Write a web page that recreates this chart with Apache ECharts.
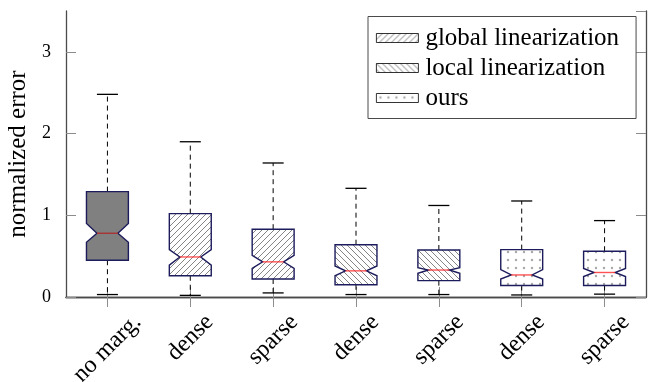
<!DOCTYPE html>
<html><head><meta charset="utf-8">
<script src="https://cdn.jsdelivr.net/npm/echarts@6/dist/echarts.min.js"></script>
<style>html,body{margin:0;padding:0;background:#fff}#c{width:652px;height:382px}</style>
</head><body><div id="c"></div>
<script>
// ---- data ----
const categories = ['no marg.', 'dense', 'sparse', 'dense', 'sparse', 'dense', 'sparse'];
const groups = ['none', 'global', 'global', 'local', 'local', 'ours', 'ours'];
const whiskerLow  = [0.03, 0.02, 0.05, 0.03, 0.03, 0.025, 0.035];
const q1          = [0.45, 0.26, 0.22, 0.15, 0.20, 0.14, 0.14];
const notchLow    = [0.67, 0.39, 0.35, 0.26, 0.29, 0.22, 0.25];
const median      = [0.78, 0.49, 0.43, 0.32, 0.33, 0.27, 0.30];
const notchHigh   = [0.90, 0.58, 0.51, 0.38, 0.36, 0.335, 0.35];
const q3          = [1.29, 1.02, 0.83, 0.64, 0.575, 0.58, 0.56];
const whiskerHigh = [2.48, 1.90, 1.64, 1.33, 1.12, 1.175, 0.935];
const yTicks = [0, 1, 2, 3];
const seriesNames = {none: 'no marg.', global: 'global linearization', local: 'local linearization', ours: 'ours'};
const legendNames = ['global linearization', 'local linearization', 'ours'];

// ---- patterns ----
function hatch(dir) {
  const s = 6, c = document.createElement('canvas');
  c.width = c.height = s;
  const g = c.getContext('2d');
  g.fillStyle = '#fff'; g.fillRect(0, 0, s, s);
  g.strokeStyle = '#666'; g.lineWidth = 0.8;
  g.beginPath();
  if (dir > 0) {
    g.moveTo(-1, s + 1); g.lineTo(s + 1, -1);
    g.moveTo(-1, 1); g.lineTo(1, -1);
    g.moveTo(s - 1, s + 1); g.lineTo(s + 1, s - 1);
  } else {
    g.moveTo(-1, -1); g.lineTo(s + 1, s + 1);
    g.moveTo(-1, s - 1); g.lineTo(1, s + 1);
    g.moveTo(s - 1, -1); g.lineTo(s + 1, 1);
  }
  g.stroke();
  return {image: c, repeat: 'repeat'};
}
function dots() {
  const c = document.createElement('canvas');
  c.width = 8; c.height = 8;
  const g = c.getContext('2d');
  g.fillStyle = '#fff'; g.fillRect(0, 0, 8, 8);
  g.fillStyle = '#a8a8a8';
  g.beginPath(); g.arc(4, 4, 1.2, 0, Math.PI * 2); g.fill();
  return {image: c, repeat: 'repeat'};
}
const fills = {none: '#808080', global: hatch(1), local: hatch(-1), ours: dots()};

const FONT = '"Liberation Serif", "Times New Roman", serif';
const XFS = 24;
const mctx = document.createElement('canvas').getContext('2d');
mctx.font = XFS + 'px "Liberation Serif"';

function makeRender(fill, medianColor) {
  return function (params, api) {
    const x = api.value(0);
    const band = api.size([1, 0])[0];
    const hw = band * 0.253, ind = hw * 0.5, cap = band * 0.127;
    const Y = v => api.coord([x, v])[1];
    const cx = api.coord([x, 0])[0];
    const yLo = Y(api.value(1)), yQ1 = Y(api.value(2)), yNL = Y(api.value(3)),
          yMed = Y(api.value(4)), yNH = Y(api.value(5)), yQ3 = Y(api.value(6)), yHi = Y(api.value(7));
    const dash = {stroke: '#000', lineWidth: 1, lineDash: [5, 4]};
    const capS = {stroke: '#000', lineWidth: 1.3};
    const pts = [[cx - hw, yQ3], [cx + hw, yQ3], [cx + hw, yNH], [cx + hw - ind, yMed], [cx + hw, yNL], [cx + hw, yQ1],
                 [cx - hw, yQ1], [cx - hw, yNL], [cx - hw + ind, yMed], [cx - hw, yNH]];
    return {type: 'group', children: [
      {type: 'line', shape: {x1: cx, y1: yQ3, x2: cx, y2: yHi}, style: dash},
      {type: 'line', shape: {x1: cx, y1: yQ1, x2: cx, y2: yLo}, style: dash},
      {type: 'line', shape: {x1: cx - cap, y1: yHi, x2: cx + cap, y2: yHi}, style: capS},
      {type: 'line', shape: {x1: cx - cap, y1: yLo, x2: cx + cap, y2: yLo}, style: capS},
      {type: 'polygon', shape: {points: pts}, style: {fill: fill, stroke: '#1c1c5c', lineWidth: 1.4}},
      {type: 'line', shape: {x1: cx - hw + ind, y1: yMed, x2: cx + hw - ind, y2: yMed},
       style: {stroke: medianColor, lineWidth: 1.4}}
    ]};
  };
}

const series = ['none', 'global', 'local', 'ours'].map(gk => ({
  type: 'custom',
  name: seriesNames[gk],
  data: categories.map((c, i) => groups[i] === gk
    ? [i, whiskerLow[i], q1[i], notchLow[i], median[i], notchHigh[i], q3[i], whiskerHigh[i]] : null).filter(Boolean),
  encode: {x: 0, y: [1, 2, 3, 4, 5, 6, 7]},
  itemStyle: {color: fills[gk], borderColor: '#000', borderWidth: 1},
  renderItem: makeRender(fills[gk], gk === 'none' ? '#a83232' : 'rgba(255,40,40,0.8)'),
  z: 3
}));

// rotated labels: centre the text below its tick, lower for longer words
const xData = categories.map(c => {
  const w = mctx.measureText(c).width;
  const p = (w + XFS) / 2;
  return {value: c, textStyle: {padding: [0, p, 0, 0], lineHeight: p, align: 'center', verticalAlign: 'top',
                                fontFamily: FONT, fontSize: XFS, color: '#000'}};
});

const tickStyle = {show: true, inside: true, length: 10, lineStyle: {color: '#8c8c8c', width: 1}};
const frameLine = {show: true, lineStyle: {color: '#4a4a4a', width: 1.3}};

const chart = echarts.init(document.getElementById('c'), null, {renderer: 'canvas'});
chart.setOption({
  animation: false,
  backgroundColor: '#fff',
  textStyle: {fontFamily: FONT},
  grid: {left: 66, right: 6, top: 11, bottom: 85, containLabel: false, outerBoundsMode: 'none'},
  legend: {
    data: legendNames,
    orient: 'vertical',
    left: 368, top: 16.5,
    padding: [9, 17, 8, 8],
    itemWidth: 42, itemHeight: 9, itemGap: 5,
    icon: 'rect',
    selectedMode: false,
    borderColor: '#4a4a4a', borderWidth: 1,
    backgroundColor: '#fff',
    itemStyle: {borderColor: '#000', borderWidth: 0.8},
    textStyle: {fontFamily: FONT, fontSize: 25, color: '#000', lineHeight: 23, padding: [0, 0, 0, 2]}
  },
  xAxis: [{
    type: 'category', data: xData, position: 'bottom', boundaryGap: true,
    axisLine: frameLine,
    axisTick: Object.assign({alignWithLabel: true}, tickStyle),
    axisLabel: {interval: 0, hideOverlap: false, rotate: 45, align: 'center', verticalAlign: 'top',
                margin: 13, fontFamily: FONT, fontSize: XFS, color: '#000'},
    splitLine: {show: false}
  }, {
    type: 'category', data: categories, position: 'top', boundaryGap: true,
    axisLine: frameLine,
    axisTick: Object.assign({alignWithLabel: true}, tickStyle),
    axisLabel: {show: false}, splitLine: {show: false}
  }],
  yAxis: [{
    type: 'value', min: 0, max: 3.5, interval: 1, position: 'left',
    name: 'normalized error', nameLocation: 'middle', nameGap: 26,
    nameTextStyle: {fontFamily: FONT, fontSize: 25, color: '#000'},
    axisLine: frameLine, axisTick: tickStyle,
    axisLabel: {showMaxLabel: false, margin: 15, fontFamily: FONT, fontSize: 18, color: '#000',
                formatter: v => (yTicks.indexOf(v) >= 0 ? String(v) : '')},
    splitLine: {show: false}
  }, {
    type: 'value', min: 0, max: 3.5, interval: 1, position: 'right',
    axisLine: frameLine, axisTick: tickStyle,
    axisLabel: {show: false}, splitLine: {show: false}
  }],
  series: series
});
</script>
</body></html>
